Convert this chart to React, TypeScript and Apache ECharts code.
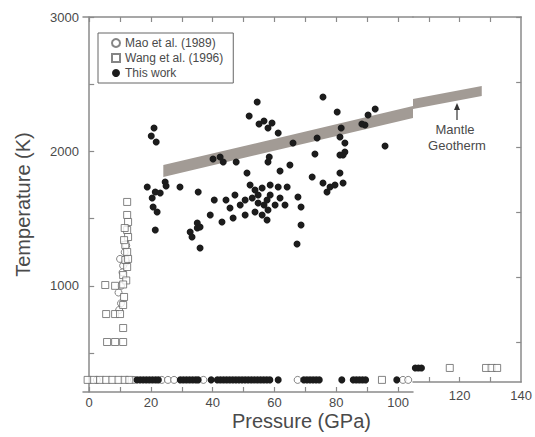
import React, { useEffect, useRef } from "react";
import * as echarts from "echarts";

// ---- axis ticks / labels ----
const xTicksMain = [0, 10, 20, 30, 40, 50, 60, 70, 80, 90, 100];
const xLabelsMain = [0, 20, 40, 60, 80, 100];
const xTicksRight = [110, 120, 130];
const xLabelsRight = [120, 140];
const yTicks = [500, 1000, 1500, 2000, 2500, 3000];
const yLabels = [1000, 2000, 3000];

// ---- geotherm band: [P1, T1, P2, T2, half-width K] ----
const geothermMain = [[24, 1854, 104.85, 2293, 44]];
const geothermRight = [[104.85, 2331, 127.2, 2431, 38]];

// ---- Mao et al. (1989) open circles ----
const maoMain = [
  [10.0, 1200], [10.3, 1000], [9.5, 950], [10.3, 870], [9.7, 820], [11.0, 1150],
  [11.5, 1250], [12.0, 1300], [10.8, 1100], [12.0, 1180],
  [2.5, 300], [14.5, 300], [23.5, 300], [25.5, 300], [27.5, 300], [37.0, 300],
  [67.5, 300], [101.6, 300], [103.3, 300]
];

// ---- Wang et al. (1996) open squares ----
const wangMain = [
  [12.3, 1624], [12.3, 1527], [12.6, 1475], [12.3, 1415], [12.6, 1363], [11.7, 1304],
  [12.3, 1252], [11.7, 1192], [12.3, 1140], [11.0, 1080], [12.0, 1040], [5.2, 1006],
  [8.4, 1000], [11.0, 1010], [11.3, 917], [11.0, 857], [11.0, 686], [5.5, 790],
  [8.4, 790], [10.0, 790], [5.8, 582], [8.4, 582], [11.0, 582], [12.6, 1200],
  [11.3, 1340], [11.5, 1430],
  [-0.5, 300], [1.5, 300], [3.5, 300], [5.5, 300], [7.5, 300], [9.5, 300],
  [11.5, 300], [13.0, 300], [94.8, 300]
];
const wangRight = [[116.8, 300], [128.6, 300], [130.4, 300], [132.2, 300]];

// ---- This work, filled circles ----
const thisWorkMain = [
  [54.4, 2368], [51.8, 2263], [55.0, 2204], [56.6, 2226], [21.0, 2174], [20.1, 2115],
  [21.7, 2070], [40.1, 1944], [42.4, 1958], [43.4, 1921], [47.6, 1921], [51.1, 1839],
  [18.8, 1735], [24.6, 1772], [24.9, 1743], [29.4, 1735], [21.4, 1698], [20.4, 1653],
  [23.0, 1691], [20.7, 1586], [22.0, 1549], [21.4, 1415], [32.7, 1400], [33.3, 1363],
  [35.0, 1467], [35.0, 1430], [35.3, 1698], [35.9, 1281], [35.9, 1438], [46.6, 1505],
  [57.6, 1490], [67.3, 1311], [68.6, 1452], [75.7, 2405], [80.3, 2293], [92.6, 2316],
  [90.3, 2271], [89.3, 2196], [88.3, 2204], [81.6, 2174], [81.2, 2107], [82.8, 2063],
  [82.8, 1996], [82.2, 1973], [81.2, 1973], [95.8, 2040], [73.8, 2100], [66.0, 2063],
  [73.1, 1981], [61.2, 2137], [59.2, 2211], [57.9, 2174], [58.3, 1958], [57.9, 1921],
  [61.8, 1854], [65.0, 1899], [72.2, 1810], [81.2, 1839], [75.7, 1765], [78.0, 1735],
  [77.0, 1698], [79.6, 1750], [82.2, 1765], [67.6, 1661], [68.6, 1586], [64.1, 1735],
  [61.2, 1735], [58.6, 1750], [57.6, 1638], [57.9, 1564],
  [52.1, 1750], [53.7, 1713], [54.7, 1676], [56.0, 1728], [52.8, 1653], [54.7, 1616],
  [56.6, 1601], [58.6, 1676], [50.5, 1638], [48.9, 1601], [47.2, 1676], [45.6, 1579],
  [44.3, 1638], [40.5, 1638], [39.2, 1527], [43.0, 1475], [50.5, 1527], [53.7, 1549],
  [56.0, 1527], [60.2, 1601], [61.8, 1653], [63.4, 1601],
  // room-temperature row
  [15.5, 300], [16.5, 300], [17.5, 300], [18.5, 300], [19.5, 300], [20.5, 300],
  [21.5, 300], [22.4, 300], [29.5, 300], [30.5, 300], [31.5, 300], [32.5, 300],
  [33.5, 300], [34.5, 300], [35.3, 300], [39.5, 300], [41.5, 300], [42.5, 300],
  [43.5, 300], [44.5, 300], [45.5, 300], [46.5, 300], [47.5, 300], [48.5, 300],
  [49.5, 300], [50.5, 300], [51.5, 300], [52.5, 300], [53.5, 300], [54.5, 300],
  [55.5, 300], [56.5, 300], [57.5, 300], [58.5, 300], [61.2, 300], [69.5, 300],
  [70.5, 300], [71.5, 300], [72.5, 300], [73.5, 300], [74.5, 300], [81.8, 300],
  [85.5, 300], [86.5, 300], [87.5, 300], [88.5, 300], [89.5, 300], [99.6, 300]
];
const thisWorkRight = [[105.6, 300], [106.6, 300], [107.6, 300]];

const AXIS = "#8a8a8a";
const TXT = "#4a4a4a";
const FONT = "Liberation Sans, Arial, sans-serif";

function band(params: any, api: any) {
  const x1 = api.value(0), y1 = api.value(1), x2 = api.value(2), y2 = api.value(3), h = api.value(4);
  const pts = [api.coord([x1, y1 - h]), api.coord([x1, y1 + h]), api.coord([x2, y2 + h]), api.coord([x2, y2 - h])];
  return { type: "polygon", shape: { points: pts }, style: { fill: "#a29b95" } };
}

const plain = (v: number) => String(v);

export default function App() {
  const ref = useRef<HTMLDivElement>(null);
  useEffect(() => {
    document.body.style.margin = "0";
    const chart = echarts.init(ref.current!, null, { renderer: "svg" });
    const tickStyle = { show: true, inside: true, length: 5, lineStyle: { color: AXIS, width: 1.2 } };
    const lineStyle = { show: true, lineStyle: { color: AXIS, width: 1.5 } };
    const lbl = { color: TXT, fontSize: 13, fontFamily: FONT, formatter: plain };
    const openStyle = { color: "#ffffff", borderColor: "#666", borderWidth: 1 };
    chart.setOption({
      animation: false,
      backgroundColor: "#ffffff",
      grid: [
        { left: 83, right: 535 - 413, top: 17, bottom: 437 - 392 },
        { left: 413, right: 13, top: 17, bottom: 437 - 382 }
      ],
      xAxis: [
        { type: "value", gridIndex: 0, position: "bottom", min: -2, max: 104.85, splitLine: { show: false },
          axisLine: lineStyle, axisTick: { ...tickStyle, customValues: xTicksMain },
          axisLabel: { ...lbl, margin: 4, customValues: xLabelsMain } },
        { type: "value", gridIndex: 1, position: "bottom", min: 104.85, max: 140, splitLine: { show: false },
          axisLine: lineStyle, axisTick: { ...tickStyle, customValues: xTicksRight },
          axisLabel: { ...lbl, margin: 7, customValues: xLabelsRight } },
        { type: "value", gridIndex: 0, position: "top", min: -2, max: 104.85, splitLine: { show: false },
          axisLine: lineStyle, axisTick: { ...tickStyle, customValues: xTicksMain }, axisLabel: { show: false } },
        { type: "value", gridIndex: 1, position: "top", min: 104.85, max: 140, splitLine: { show: false },
          axisLine: lineStyle, axisTick: { ...tickStyle, customValues: xTicksRight }, axisLabel: { show: false } }
      ],
      yAxis: [
        { type: "value", gridIndex: 0, position: "left", min: 210, max: 3000, splitLine: { show: false },
          axisLine: lineStyle, axisTick: { ...tickStyle, customValues: yTicks },
          axisLabel: { ...lbl, margin: 4, customValues: yLabels },
          name: "Temperature (K)", nameLocation: "middle", nameGap: 50,
          nameTextStyle: { color: TXT, fontSize: 20, fontFamily: FONT } },
        { type: "value", gridIndex: 1, position: "right", min: 192, max: 3000, splitLine: { show: false },
          axisLine: lineStyle, axisTick: { ...tickStyle, customValues: yTicks }, axisLabel: { show: false } }
      ],
      legend: {
        left: 98, top: 33, orient: "vertical", selectedMode: false,
        borderColor: "#666", borderWidth: 1, padding: [4, 10, 4, 13],
        itemWidth: 8, itemHeight: 8, itemGap: 3,
        textStyle: { color: TXT, fontSize: 12, fontFamily: FONT },
        data: [
          { name: "Mao et al. (1989)", icon: "circle" },
          { name: "Wang et al. (1996)", icon: "rect" },
          { name: "This work", icon: "circle" }
        ]
      },
      series: [
        { type: "custom", name: "geo0", xAxisIndex: 0, yAxisIndex: 0, renderItem: band,
          encode: { x: [0, 2], y: [1, 3] }, data: geothermMain, silent: true },
        { type: "custom", name: "geo1", xAxisIndex: 1, yAxisIndex: 1, renderItem: band,
          encode: { x: [0, 2], y: [1, 3] }, data: geothermRight, silent: true },
        { type: "scatter", name: "Mao et al. (1989)", xAxisIndex: 0, yAxisIndex: 0, symbol: "circle",
          symbolSize: 7, itemStyle: openStyle, data: maoMain },
        { type: "scatter", name: "Wang et al. (1996)", xAxisIndex: 0, yAxisIndex: 0, symbol: "rect",
          symbolSize: 7, itemStyle: openStyle, data: wangMain },
        { type: "scatter", name: "Wang et al. (1996)", xAxisIndex: 1, yAxisIndex: 1, symbol: "rect",
          symbolSize: 7, itemStyle: openStyle, data: wangRight },
        { type: "scatter", name: "This work", xAxisIndex: 0, yAxisIndex: 0, symbol: "circle",
          symbolSize: 7, itemStyle: { color: "#1c1c1c", opacity: 1 }, data: thisWorkMain },
        { type: "scatter", name: "This work", xAxisIndex: 1, yAxisIndex: 1, symbol: "circle",
          symbolSize: 7, itemStyle: { color: "#1c1c1c", opacity: 1 }, data: thisWorkRight }
      ],
      graphic: [
        { type: "text", left: 306 - 74, top: 411,
          style: { text: "Pressure (GPa)", fill: TXT, font: `20px ${FONT}` } },
        { type: "text", x: 455, y: 129,
          style: { text: "Mantle", fill: TXT, font: `13px ${FONT}`, align: "center", verticalAlign: "middle" } },
        { type: "text", x: 457, y: 145,
          style: { text: "Geotherm", fill: TXT, font: `13px ${FONT}`, align: "center", verticalAlign: "middle" } },
        { type: "line", shape: { x1: 457, y1: 120, x2: 457, y2: 108 }, style: { stroke: "#333", lineWidth: 1.2 } },
        { type: "polygon", shape: { points: [[454, 110], [460, 110], [457, 103]] }, style: { fill: "#333" } }
      ]
    });
    return () => chart.dispose();
  }, []);
  return <div ref={ref} style={{ width: 535, height: 437 }} />;
}
